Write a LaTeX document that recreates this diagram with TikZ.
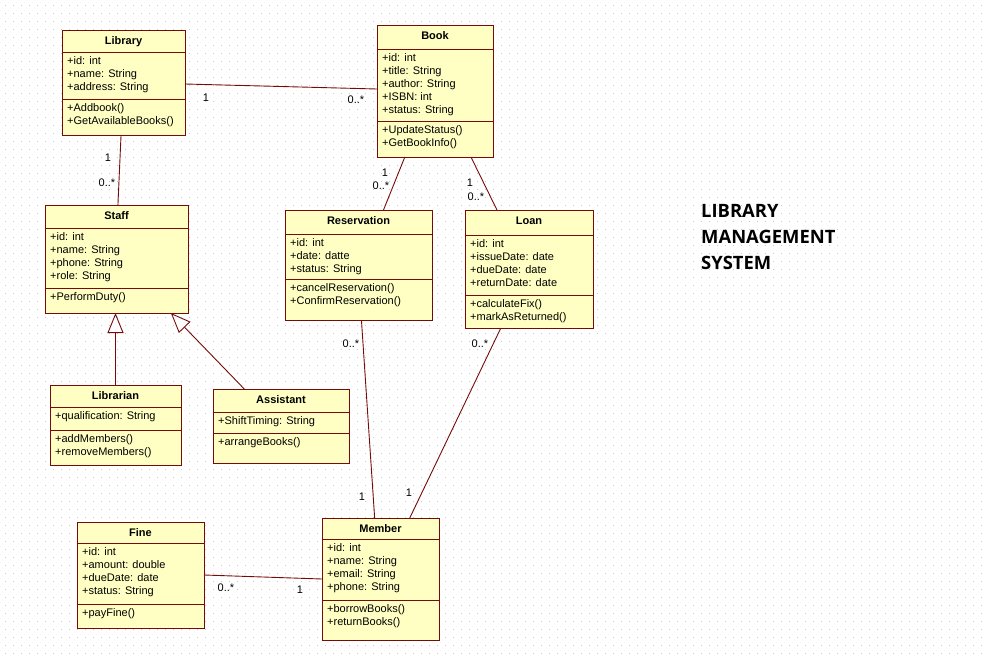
\documentclass[tikz,border=0pt]{standalone}
\usepackage{fontspec}
\setmainfont{Liberation Sans}
\newfontfamily\headfont{Open Sans}
\usetikzlibrary{calc,arrows.meta}

\definecolor{umlred}{RGB}{120,10,10}
\definecolor{umlfill}{RGB}{255,255,196}
\definecolor{griddotcol}{RGB}{200,200,200}

% class box: outline, compartment separators and their left-end coordinates
\newcommand{\umlbox}[7]{%
  \node[classbox, minimum width=#4pt, minimum height=#5pt, anchor=north west] (#1) at (#2,#3) {};
  \coordinate (#1-s1) at (#2,#3+#6);
  \coordinate (#1-s2) at (#2,#3+#7);
  \draw[classborder] (#1-s1) -- ++(#4,0);
  \draw[classborder] (#1-s2) -- ++(#4,0);
}
% class texts: name, attributes, operations
\newcommand{\umltext}[4]{%
  \node[titletext, anchor=base] (#1-t) at ($(#1.north)+(0,14)$) {#2};
  \foreach \txt [count=\i] in {#3}
    \node[membertext, anchor=base west] (#1-a\i) at ($(#1-s1)+(5,12.5+13*\i-13)$) {\txt};
  \foreach \txt [count=\i] in {#4}
    \node[membertext, anchor=base west] (#1-m\i) at ($(#1-s2)+(5,12.5+13*\i-13)$) {\txt};
}

\tikzset{
  classbox/.style={draw=umlred, fill=umlfill, line width=1pt, inner sep=0pt, outer sep=0pt},
  classborder/.style={draw=umlred, line width=1pt},
  titletext/.style={font=\fontsize{11}{13}\selectfont\bfseries, inner sep=0pt},
  membertext/.style={font=\fontsize{11}{13}\selectfont, inner sep=0pt},
  mult/.style={font=\fontsize{11}{13}\selectfont, inner sep=0pt},
  assoc/.style={draw=umlred, line width=0.9pt},
  gen/.style={assoc, -{Triangle[length=20pt, width=16pt, fill=white]}},
  headtext/.style={font=\headfont\bfseries\fontsize{18.4}{22}\selectfont, inner sep=0pt},
  griddot/.style={draw=griddotcol, line width=1pt, dash pattern=on 1pt off 7pt, dash phase=3pt},
}

\begin{document}
\begin{tikzpicture}[x=1pt, y=-1pt]
  \useasboundingbox (0,0) rectangle (989,659);
  \fill[white] (0,0) rectangle (989,659);

  % dotted background grid
  \foreach \gy in {5,13,...,653}
    \draw[griddot] (0,\gy+0.5) -- (989,\gy+0.5);

  % classes
  \umlbox{lib}{62}{30}{123}{105}{22}{69}
  \umltext{lib}{Library}{+id: int,+name: String,+address: String}{+Addbook(),+GetAvailableBooks()}

  \umlbox{book}{377}{25}{116}{132}{24}{96}
  \umltext{book}{Book}{+id: int,+title: String,+author: String,+ISBN: int,+status: String}{+UpdateStatus(),+GetBookInfo()}

  \umlbox{staff}{45}{205}{143}{108}{23}{83}
  \umltext{staff}{Staff}{+id: int,+name: String,+phone: String,+role: String}{+PerformDuty()}

  \umlbox{res}{285}{210}{147}{110}{24}{69}
  \umltext{res}{Reservation}{+id: int,+date: datte,+status: String}{+cancelReservation(),+ConfirmReservation()}

  \umlbox{loan}{465}{210}{128}{118}{25}{85}
  \umltext{loan}{Loan}{+id: int,+issueDate: date,+dueDate: date,+returnDate: date}{+calculateFix(),+markAsReturned()}

  \umlbox{librarian}{50}{385}{131}{80}{22}{45}
  \umltext{librarian}{Librarian}{+qualification: String}{+addMembers(),+removeMembers()}

  \umlbox{assist}{213}{389}{136}{74}{23}{44}
  \umltext{assist}{Assistant}{+ShiftTiming: String}{+arrangeBooks()}

  \umlbox{fine}{77}{522}{127}{106}{21}{82}
  \umltext{fine}{Fine}{+id: int,+amount: double,+dueDate: date,+status: String}{+payFine()}

  \umlbox{member}{322}{518}{117}{122}{21}{82}
  \umltext{member}{Member}{+id: int,+name: String,+email: String,+phone: String}{+borrowBooks(),+returnBooks()}

  % associations
  \draw[assoc] ($(lib.east)+(0,1.5)$) -- ($(book.west)+(0,-2)$);
  \draw[assoc] ($(lib.south west)!0.48!(lib.south east)$) -- ($(staff.north west)!0.51!(staff.north east)$);
  \draw[assoc] ($(book.south west)!0.24!(book.south east)$) -- ($(res.north west)!0.67!(res.north east)$);
  \draw[assoc] ($(book.south west)!0.81!(book.south east)$) -- ($(loan.north west)!0.25!(loan.north east)$);
  \draw[assoc] ($(res.south west)!0.52!(res.south east)$) -- ($(member.north west)!0.45!(member.north east)$);
  \draw[assoc] ($(loan.south west)!0.28!(loan.south east)$) -- ($(member.north west)!0.75!(member.north east)$);
  \draw[assoc] (fine.east) -- (member.west);

  % generalisations
  \draw[gen] (librarian.north) -- (librarian.north |- staff.south);
  \draw[gen] ($(assist.north west)!0.23!(assist.north east)$) -- ($(staff.south west)!0.88!(staff.south east)$);

  % multiplicities
  \node[mult] (m1) at (206,98) {1};
  \node[mult] (m2) at (356,100) {0..*};
  \node[mult] (m3) at (108,158) {1};
  \node[mult] (m4) at (107,183) {0..*};
  \node[mult] (m5) at (385,173) {1};
  \node[mult] (m6) at (381,186) {0..*};
  \node[mult] (m7) at (470,183) {1};
  \node[mult] (m8) at (476,197) {0..*};
  \node[mult] (m9) at (351,344) {0..*};
  \node[mult] (m10) at (362,497) {1};
  \node[mult] (m11) at (480,344) {0..*};
  \node[mult] (m12) at (409,493) {1};
  \node[mult] (m13) at (226,588) {0..*};
  \node[mult] (m14) at (300,590) {1};

  % heading
  \node[headtext, anchor=base west] (h1) at (701,217) {LIBRARY};
  \node[headtext, anchor=base west] (h2) at (701,243) {MANAGEMENT};
  \node[headtext, anchor=base west] (h3) at (701,269) {SYSTEM};
\end{tikzpicture}
\end{document}
